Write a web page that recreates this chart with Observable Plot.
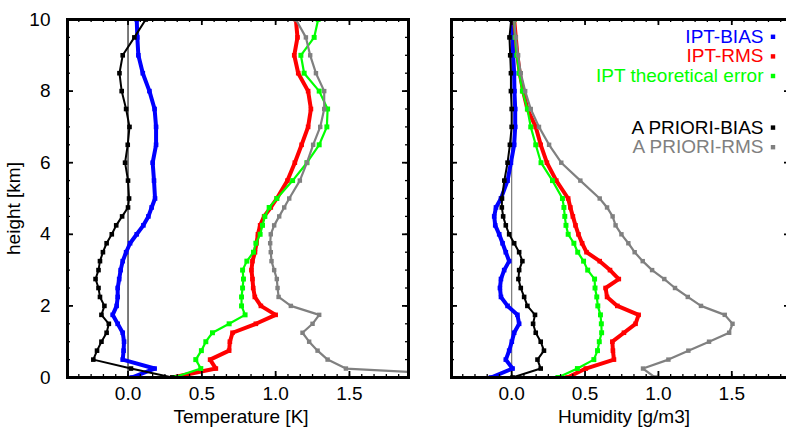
<!DOCTYPE html>
<html><head><meta charset="utf-8">
<script src="https://cdn.jsdelivr.net/npm/d3@7"></script>
<script src="https://cdn.jsdelivr.net/npm/@observablehq/plot@0.6"></script>
<style>
body{margin:0;background:#fff;}
#wrap{position:relative;width:786px;height:435px;overflow:hidden;background:#fff;}
#wrap svg{position:absolute;top:0;}
</style></head><body><div id="wrap"></div>
<script>
// heights (km)
const levels = [0,0.25,0.5,0.75,1,1.25,1.5,1.75,2,2.25,2.5,2.75,3,3.25,3.5,3.75,4,4.25,4.5,4.75,5,5.5,6,6.5,7,7.5,8,8.5,9,9.5,10];

// Temperature [K]
const tBias      = [0.025,0.18,-0.036,-0.03,-0.027,-0.036,-0.07,-0.104,-0.077,-0.07,-0.07,-0.06,-0.05,-0.036,-0.013,0.014,0.059,0.104,0.138,0.16,0.183,0.176,0.167,0.19,0.19,0.18,0.145,0.10,0.07,0.063,0.059];
const tRms       = [0.3,0.595,0.556,0.685,0.69,0.708,0.866,1.0,0.9,0.859,0.848,0.843,0.836,0.843,0.86,0.87,0.88,0.895,0.922,0.967,1.008,1.08,1.13,1.176,1.22,1.239,1.22,1.153,1.126,1.148,1.137];
const tTheo      = [0.31,0.493,0.459,0.497,0.527,0.572,0.685,0.793,0.769,0.769,0.776,0.782,0.776,0.805,0.85,0.866,0.895,0.911,0.927,0.956,1.008,1.115,1.212,1.295,1.347,1.352,1.295,1.193,1.171,1.261,1.288];
const tPriorBias = [0.3,0.02,-0.235,-0.21,-0.18,-0.145,-0.13,-0.18,-0.16,-0.19,-0.20,-0.22,-0.20,-0.19,-0.17,-0.145,-0.11,-0.08,-0.04,0.0,0.007,0.0,-0.02,-0.002,0.01,-0.013,-0.043,-0.058,-0.036,0.043,0.12];
const tPriorRms  = [2.6,1.476,1.352,1.284,1.227,1.182,1.25,1.295,1.103,1.02,1.013,1.008,0.99,0.972,0.967,0.963,0.967,0.99,1.024,1.058,1.092,1.164,1.212,1.254,1.302,1.329,1.329,1.273,1.234,1.205,1.137];

// Humidity [g/m3]
const hBias      = [-0.141,0.006,-0.04,-0.017,0.001,0.017,0.051,0.039,-0.028,-0.073,-0.08,-0.073,-0.051,-0.017,-0.04,-0.062,-0.085,-0.112,-0.119,-0.107,-0.073,-0.028,-0.005,0.017,0.024,0.024,0.019,0.017,0.01,0.006,0.001];
const hRms       = [0.38,0.505,0.697,0.69,0.686,0.765,0.844,0.865,0.72,0.65,0.64,0.73,0.67,0.6,0.51,0.48,0.455,0.435,0.417,0.40,0.385,0.304,0.24,0.198,0.164,0.107,0.078,0.055,0.039,0.028,0.017];
const hTheo      = [0.315,0.448,0.56,0.585,0.597,0.613,0.611,0.605,0.587,0.58,0.568,0.565,0.518,0.49,0.45,0.424,0.385,0.37,0.362,0.356,0.346,0.278,0.2,0.164,0.13,0.107,0.073,0.051,0.035,0.024,0.017];
const hPriorBias = [0.006,0.198,0.176,0.22,0.198,0.164,0.146,0.159,0.107,0.085,0.062,0.046,0.051,0.073,0.051,0.017,-0.017,-0.04,-0.058,-0.067,-0.066,-0.05,-0.028,-0.012,0.0,0.0,-0.005,-0.005,-0.01,-0.015,-0.003];
const hPriorRms  = [0.977,0.895,1.068,1.204,1.345,1.482,1.505,1.452,1.29,1.2,1.113,1.04,0.957,0.893,0.838,0.795,0.748,0.708,0.688,0.65,0.6,0.468,0.338,0.255,0.186,0.13,0.092,0.062,0.044,0.028,0.017];

const seriesNames  = ["IPT-BIAS","IPT-RMS","IPT theoretical error","A PRIORI-BIAS","A PRIORI-RMS"];
const seriesColors = ["#0000ff","#ff0000","#00ff00","#000000","#808080"];
const seriesWidths = [4,4,2.2,2,2.2];
const markerR      = [2.6,2.6,2.8,2.6,2.5];

const xMajor = [0,0.5,1,1.5];
const yMajor = [0,2,4,6,8,10];
const xMinor = d3.range(-5,23).map(k => k/12).filter(v => v > -0.41 && v < 1.9);
const yMinor = d3.range(0,21).map(k => k/2);

const yTitle = "height [km]";
const xTitles = ["Temperature [K]","Humidity [g/m3]"];

const FONT = "'Liberation Sans', Arial, Helvetica, sans-serif";
const H = 435, MT = 19, MB = 58;

function panel({data, width, marginLeft, marginRight, showY, zeroColor, xTitle, legend}) {
  const plotW = width - marginLeft - marginRight, plotH = H - MT - MB;
  const marks = [];
  marks.push(Plot.ruleX([0], {stroke: zeroColor, strokeWidth: 1.2}));
  data.forEach((vals, i) => {
    const rows = levels.map((h, j) => ({h, v: vals[j]}));
    marks.push(Plot.line(rows, {x: "v", y: "h", stroke: seriesColors[i], strokeWidth: seriesWidths[i], clip: true}));
    marks.push(Plot.dot(rows, {x: "v", y: "h", symbol: "square", r: markerR[i], fill: seriesColors[i], clip: true}));
  });
  // inward ticks
  const tk = (len, w) => ({stroke: "black", strokeWidth: w});
  marks.push(Plot.tickX(xMinor, {x: d => d, insetTop: plotH - 3, ...tk(3, 1.3)}));
  marks.push(Plot.tickX(xMinor, {x: d => d, insetBottom: plotH - 3, ...tk(3, 1.3)}));
  marks.push(Plot.tickX(xMajor, {x: d => d, insetTop: plotH - 6, ...tk(6, 1.8)}));
  marks.push(Plot.tickX(xMajor, {x: d => d, insetBottom: plotH - 6, ...tk(6, 1.8)}));
  marks.push(Plot.tickY(yMinor, {y: d => d, insetRight: plotW - 3, ...tk(3, 1.3)}));
  marks.push(Plot.tickY(yMinor, {y: d => d, insetLeft: plotW - 3, ...tk(3, 1.3)}));
  marks.push(Plot.tickY(yMajor, {y: d => d, insetRight: plotW - 6, ...tk(6, 1.8)}));
  marks.push(Plot.tickY(yMajor, {y: d => d, insetLeft: plotW - 6, ...tk(6, 1.8)}));
  marks.push(Plot.frame({stroke: "black", strokeWidth: 3}));
  marks.push(Plot.axisX(xMajor, {anchor: "bottom", tickSize: 0, tickPadding: 9, tickFormat: d3.format(".1f"), fontSize: 19, label: null}));
  marks.push(Plot.text([xTitle], {frameAnchor: "bottom", text: d => d, lineAnchor: "middle", dy: 39, dx: 3, fontSize: 19}));
  if (showY) {
    marks.push(Plot.axisY(yMajor, {anchor: "left", tickSize: 0, tickPadding: 17, fontSize: 19, label: null}));
    marks.push(Plot.text([yTitle], {frameAnchor: "left", text: d => d, rotate: -90, dx: -54, dy: 10, fontSize: 19, textAnchor: "middle", lineAnchor: "middle"}));
  }
  if (legend) {
    seriesNames.forEach((name, i) => {
      const dy = 17.3 + 19.6 * i + (i >= 3 ? 32 : 0);
      marks.push(Plot.text([name], {frameAnchor: "top-right", text: d => d, textAnchor: "end", lineAnchor: "middle", dx: -27, dy, fill: seriesColors[i], fontSize: 19}));
      marks.push(Plot.dot([name], {frameAnchor: "top-right", dx: -17.5, dy, symbol: "square", r: 2.5, fill: seriesColors[i]}));
    });
  }
  return Plot.plot({
    width, height: H, marginLeft, marginRight, marginTop: MT, marginBottom: MB,
    x: {domain: [-0.41, 1.9], axis: null, label: null},
    y: {domain: [0, 10], axis: null, label: null},
    style: {fontFamily: FONT, fontSize: "19px", background: "white", color: "black"},
    marks
  });
}

const wrap = document.getElementById("wrap");
const left = panel({data: [tBias, tRms, tTheo, tPriorBias, tPriorRms], width: 420, marginLeft: 67, marginRight: 12, showY: true, zeroColor: "#222", xTitle: xTitles[0], legend: false});
left.style.left = "0px";
wrap.appendChild(left);
const right = panel({data: [hBias, hRms, hTheo, hPriorBias, hPriorRms], width: 374, marginLeft: 31, marginRight: 4, showY: false, zeroColor: "#777", xTitle: xTitles[1], legend: true});
right.style.left = "420px";
wrap.appendChild(right);
</script>
</body></html>
